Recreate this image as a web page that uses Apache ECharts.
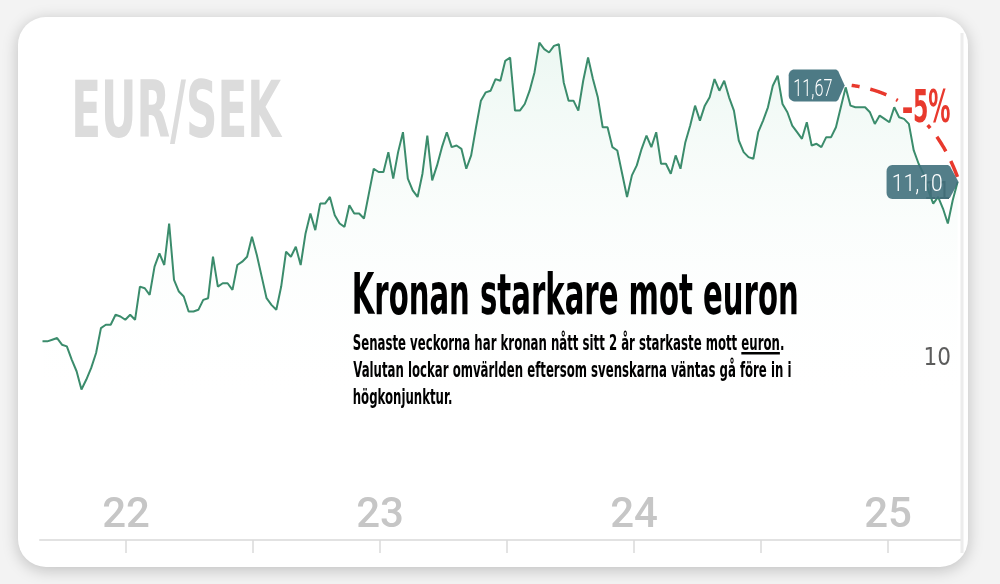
<!DOCTYPE html>
<html><head><meta charset="utf-8">
<script src="https://cdn.jsdelivr.net/npm/echarts@6/dist/echarts.min.js"></script>
<style>html,body{margin:0;padding:0;background:#f3f3f3;overflow:hidden}#c{width:1000px;height:584px}</style>
</head><body><div id="c"></div>
<script>
// ---------- data ----------
const firstWeek = '2021-09-03';           // weekly closes, EUR/SEK
const rates = [10.14,10.14,10.15,10.16,10.12,10.11,10.03,9.96,9.85,9.91,
9.98,10.07,10.22,10.24,10.24,10.30,10.29,10.27,10.30,10.27,
10.47,10.46,10.42,10.59,10.67,10.60,10.85,10.51,10.44,10.41,
10.32,10.32,10.33,10.39,10.40,10.65,10.47,10.49,10.49,10.45,
10.60,10.62,10.65,10.77,10.66,10.53,10.40,10.36,10.33,10.47,
10.68,10.65,10.71,10.60,10.79,10.91,10.81,10.97,10.97,11.01,
10.90,10.85,10.83,10.96,10.91,10.91,10.88,11.03,11.18,11.16,
11.16,11.28,11.12,11.28,11.40,11.12,11.05,11.01,11.15,11.38,
11.11,11.20,11.31,11.40,11.31,11.32,11.30,11.18,11.26,11.43,
11.59,11.64,11.65,11.72,11.71,11.83,11.85,11.53,11.53,11.57,
11.65,11.76,11.94,11.90,11.88,11.92,11.93,11.70,11.59,11.59,
11.53,11.71,11.85,11.72,11.61,11.43,11.43,11.31,11.29,11.15,
11.01,11.14,11.20,11.30,11.38,11.31,11.40,11.21,11.21,11.15,
11.26,11.18,11.34,11.44,11.56,11.47,11.56,11.61,11.72,11.65,
11.71,11.61,11.53,11.35,11.28,11.25,11.24,11.40,11.47,11.55,
11.68,11.74,11.57,11.52,11.44,11.40,11.36,11.46,11.32,11.33,
11.31,11.37,11.37,11.43,11.55,11.67,11.56,11.55,11.55,11.55,
11.52,11.45,11.50,11.48,11.46,11.55,11.49,11.48,11.45,11.29,
11.21,11.15,11.05,10.97,11.01,10.94,10.85,10.99,11.10];
const tickYears  = [2022, 2022.5, 2023, 2023.5, 2024, 2024.5, 2025];
const labelYears = [2022, 2023, 2024, 2025];
const valueLabels = [10, 11];
const changeFromIndex = 165;            // week annotated with 11,67
const peakText = '11,67';
const lastText = '11,10';
const changeText = '–5%';
const pairText = 'EUR/SEK';
const headline = 'Kronan starkare mot euron';
const bodyLines = [
  'Senaste veckorna har kronan nått sitt 2 år starkaste mott euron.',
  'Valutan lockar omvärlden eftersom svenskarna väntas gå före in i',
  'högkonjunktur.'
];
const underlined = 'euron';

// ---------- helpers ----------
const DAY = 86400000;
const t0 = Date.parse(firstWeek + 'T00:00:00Z');
function decYear(ms){const y=new Date(ms).getUTCFullYear();const s=Date.UTC(y,0,1),e=Date.UTC(y+1,0,1);return y+(ms-s)/(e-s);}
const seriesData = rates.map((v,i)=>[decYear(t0+i*7*DAY), v]);

const mctx = document.createElement('canvas').getContext('2d');
function hasFont(f){mctx.font='72px monospace';const a=mctx.measureText('abcdefghijklmnopqrstuvwxyz0123').width;mctx.font='72px "'+f+'", monospace';const b=mctx.measureText('abcdefghijklmnopqrstuvwxyz0123').width;return Math.abs(a-b)>0.5;}
const COND = ['Liberation Sans Narrow','DejaVu Sans Condensed','Roboto Condensed'].find(hasFont) || 'Roboto';
function fstr(w,s,f){return w+' '+s+'px "'+f+'"';}
function fitText(o){
  mctx.textBaseline='alphabetic';
  mctx.font=fstr(o.weight,100,o.family);
  const capRatio=mctx.measureText('H').actualBoundingBoxAscent/100;
  const size=o.capH/capRatio;
  mctx.font=fstr(o.weight,size,o.family);
  mctx.textBaseline='middle';
  const m=mctx.measureText(o.text);
  const hm=mctx.measureText('H');
  const ink=m.actualBoundingBoxLeft+m.actualBoundingBoxRight;
  const sx=o.width?o.width/ink:o.scale;
  const el={type:'text',x:o.left+m.actualBoundingBoxLeft*sx,y:o.capTop+hm.actualBoundingBoxAscent,scaleX:sx,
    style:{text:o.text,fontSize:size,fontFamily:o.family,fontWeight:o.weight,fill:o.color,align:'left',verticalAlign:'middle',opacity:o.opacity==null?1:o.opacity},
    z:o.z||30,silent:true};
  el._sx=sx;el._size=size;
  return el;
}
function measureW(text,weight,size,family){mctx.font=fstr(weight,size,family);return mctx.measureText(text).width;}

// ---------- chart ----------
const chart = echarts.init(document.getElementById('c'), null, {renderer:'canvas'});
const xMin = 2022 - 86/254, xMax = 2022 + 834/254;
const option = {
  animation:false,
  backgroundColor:'transparent',
  grid:{left:40, right:40, top:32.6, height:498},
  xAxis:{type:'value', min:xMin, max:xMax, offset:9.4,
    axisLine:{show:true, lineStyle:{color:'#e2e2e2', width:2}},
    axisTick:{show:true, customValues:tickYears, length:13, inside:false, lineStyle:{color:'#dadada', width:1.5}},
    axisLabel:{customValues:labelYears, inside:true, margin:3, lineHeight:42,
      formatter:v=>String(Math.round(v)).slice(2), fontSize:42, fontFamily:'Roboto', fontWeight:500, color:'#c6c6c6'},
    splitLine:{show:false}},
  yAxis:{type:'value', min:9, max:12, interval:1, position:'right',
    axisLine:{show:false}, axisTick:{show:false}, splitLine:{show:false},
    axisLabel:{inside:true, margin:9, verticalAlign:'bottom', lineHeight:12,
      formatter:v=>valueLabels.includes(v)?String(v):'', fontSize:24, fontFamily:COND, fontWeight:'normal', color:'#555'}},
  series:[{type:'line', data:seriesData, symbol:'none', showSymbol:false, z:3,
    lineStyle:{color:'#3b8c6c', width:2},
    areaStyle:{color:new echarts.graphic.LinearGradient(0,0,0,1,[{offset:0,color:'rgba(196,231,215,0.45)'},{offset:0.75,color:'rgba(255,255,255,0)'}])}}]
};
chart.setOption(option);

// ---------- annotations & text ----------
const g = [];
g.push({type:'rect', shape:{x:18,y:17,width:950,height:550,r:28}, style:{fill:'#fff',shadowBlur:16,shadowColor:'rgba(0,0,0,0.22)',shadowOffsetY:3}, z:-10, silent:true});
g.push({type:'line', shape:{x1:962,y1:33,x2:962,y2:553}, style:{stroke:'#ececec',lineWidth:3}, z:-5, silent:true});

g.push(fitText({text:pairText,left:75,capTop:79.3,capH:57.4,width:207.3,family:COND,weight:'bold',color:'#dcdcdc',z:1}));
g.push(fitText({text:headline,left:354,capTop:271.7,capH:41.6,width:442.7,family:COND,weight:'bold',color:'#000'}));
const l2 = fitText({text:bodyLines[1],left:353.3,capTop:361,capH:15.9,width:437.7,family:COND,weight:'bold',color:'#000'});
const bs = l2._sx;
const l1 = fitText({text:bodyLines[0],left:353.3,capTop:334.3,capH:15.9,scale:bs,family:COND,weight:'bold',color:'#000'});
const l3 = fitText({text:bodyLines[2],left:353.3,capTop:388,capH:15.9,scale:bs,family:COND,weight:'bold',color:'#000'});
g.push(l1,l2,l3);
// underline of "euron"
const pre = bodyLines[0].slice(0, bodyLines[0].lastIndexOf(underlined));
const ux = l1.x + measureW(pre,'bold',l1._size,COND)*bs;
const uw = measureW(underlined,'bold',l1._size,COND)*bs;
g.push({type:'rect', shape:{x:ux, y:352, width:uw, height:2.5}, style:{fill:'#000'}, z:30, silent:true});

const pPeak = chart.convertToPixel({seriesIndex:0}, seriesData[changeFromIndex]);
const pEnd  = chart.convertToPixel({seriesIndex:0}, seriesData[rates.length-1]);

function tagPts(tipX, tipY, left, bodyRight, half, r){
  const pts=[], top=tipY-half, bot=tipY+half;
  for(let k=0;k<=6;k++){const a=Math.PI+k/6*Math.PI/2;pts.push([left+r+r*Math.cos(a), top+r+r*Math.sin(a)]);}
  pts.push([bodyRight-1.5, top]); pts.push([bodyRight+0.5, top+1.5]); pts.push([tipX, tipY]); pts.push([bodyRight+0.5, bot-1.5]); pts.push([bodyRight-1.5, bot]);
  for(let k=0;k<=6;k++){const a=Math.PI/2+k/6*Math.PI/2;pts.push([left+r+r*Math.cos(a), bot-r+r*Math.sin(a)]);}
  return pts;
}
const TAG = '#40707c';
// dashed change curve
const P0=[pPeak[0]+6,pPeak[1]-2], C1=[pPeak[0]+43,pPeak[1]+3], C2=[pEnd[0]-24,pEnd[1]-72], P3=[pEnd[0]+1,pEnd[1]-2];
const segs=[[]];
for(let k=0;k<=300;k++){
  const t=k/300, a=(1-t)**3, b=3*(1-t)**2*t, c=3*(1-t)*t*t, d=t**3;
  const x=a*P0[0]+b*C1[0]+c*C2[0]+d*P3[0], y=a*P0[1]+b*C1[1]+c*C2[1]+d*P3[1];
  const hidden = x>898 && x<956 && y<125;
  if(hidden){ if(segs[segs.length-1].length) segs.push([]); }
  else segs[segs.length-1].push([x,y]);
}
segs.filter(s=>s.length>1).forEach((s,i)=>{
  g.push({type:'polyline', shape:{points:s}, style:{stroke:'#e8392d',lineWidth:3.5,fill:null,lineDash:[17,11],lineDashOffset:i===0?9:13}, z:15, silent:true});
});
g.push(fitText({text:changeText,left:903,capTop:89.3,capH:32.4,width:47,family:COND,weight:'bold',color:'#e8392d',z:16}));

// value tags
const t1=[pPeak[0]-1,pPeak[1]-2];
g.push({type:'polygon', shape:{points:tagPts(t1[0],t1[1],t1[0]-56,t1[0]-7,16,6)}, style:{fill:TAG,opacity:0.93}, z:20, silent:true});
g.push(fitText({text:peakText,left:t1[0]-50,capTop:t1[1]-6.7,capH:16.7,width:37,family:'Roboto',weight:300,color:'#fff',z:21}));
const t2=[pEnd[0]+1,pEnd[1]];
g.push({type:'polygon', shape:{points:tagPts(t2[0],t2[1],t2[0]-72,t2[0]-9,17,6)}, style:{fill:TAG,opacity:0.9}, z:20, silent:true});
g.push(fitText({text:lastText,left:t2[0]-65,capTop:t2[1]-7.7,capH:17.4,width:48.7,family:'Roboto',weight:300,color:'#fff',z:21}));

g.forEach(e=>{delete e._sx;delete e._size;});
chart.setOption({graphic:{elements:g}});
</script>
</body></html>
